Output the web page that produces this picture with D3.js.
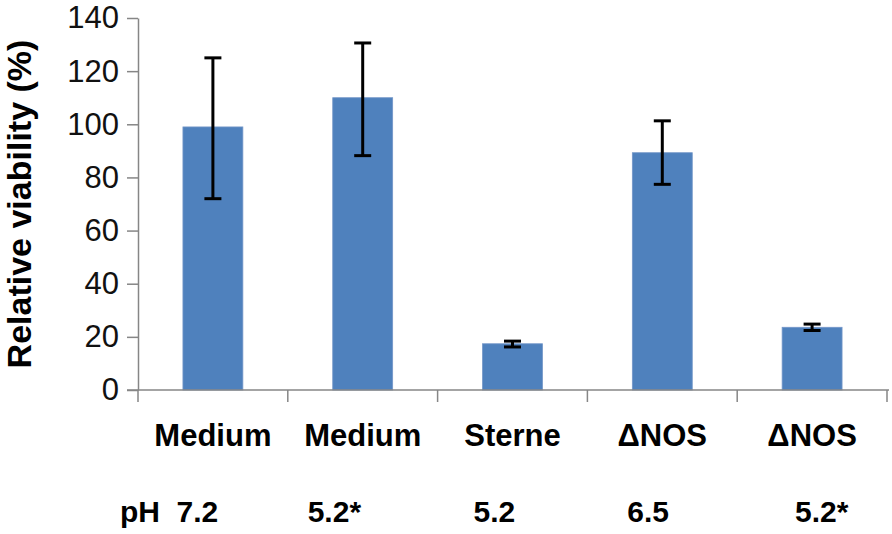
<!DOCTYPE html>
<html>
<head>
<meta charset="utf-8">
<script src="https://cdn.jsdelivr.net/npm/d3@7"></script>
<style>
  body { margin: 0; background: #fff; }
  svg { display: block; font-family: "Liberation Sans", Arial, sans-serif; }
</style>
</head>
<body>
<div id="chart"></div>
<script>
// data
const categories = ["Medium", "Medium", "Sterne", "\u0394NOS", "\u0394NOS"];
const viability = [99, 110, 17.4, 89.3, 23.6];
const errLow = [72, 88.2, 16.2, 77.4, 22.4];
const errHigh = [125, 130.6, 18.4, 101.3, 24.8];
const phLabels = ["pH  7.2", "5.2*", "5.2", "6.5", "5.2*"];
const yTicks = [0, 20, 40, 60, 80, 100, 120, 140];

// layout: where each pH label starts, relative to the category centre
const phOffsets = [-93, -55, -39, -35, -17];

const width = 892, height = 534;
const axisColor = "#868686";

const svg = d3.select("#chart")
  .append("svg")
  .attr("width", width)
  .attr("height", height);

const x = d3.scaleBand()
  .domain(d3.range(categories.length))
  .range([138, 887])
  .padding(0);

const y = d3.scaleLinear()
  .domain([0, 140])
  .range([390, 18]);

const barW = x.bandwidth() * 0.4;

// bars
svg.selectAll("rect.bar")
  .data(viability)
  .enter()
  .append("rect")
  .attr("class", "bar")
  .attr("x", (d, i) => x(i) + (x.bandwidth() - barW) / 2)
  .attr("y", d => y(d))
  .attr("width", barW)
  .attr("height", d => y(0) - y(d))
  .attr("fill", "#4f81bd")
  .attr("stroke", "#7396c8")
  .attr("stroke-width", 0.8);

// y axis
const yAxis = svg.append("g")
  .attr("transform", `translate(${x.range()[0]},0)`)
  .call(d3.axisLeft(y).tickValues(yTicks).tickSize(11).tickPadding(8).tickSizeOuter(0));
yAxis.select(".domain").attr("stroke", axisColor).attr("stroke-width", 1.5);
yAxis.selectAll(".tick line").attr("stroke", axisColor).attr("stroke-width", 1.5);
yAxis.selectAll(".tick text")
  .attr("font-size", 31)
  .attr("fill", "#111")
  .attr("font-family", "Liberation Sans, Arial, sans-serif");

// x axis line with ticks between categories
const xAxis = svg.append("g").attr("transform", `translate(0,${y(0)})`);
xAxis.append("line")
  .attr("x1", x.range()[0] - 11)
  .attr("x2", x.range()[1] + 2)
  .attr("stroke", axisColor)
  .attr("stroke-width", 1.5);
xAxis.selectAll("line.sep")
  .data(d3.range(categories.length + 1))
  .enter()
  .append("line")
  .attr("class", "sep")
  .attr("x1", i => i < categories.length ? x(i) : x.range()[1])
  .attr("x2", i => i < categories.length ? x(i) : x.range()[1])
  .attr("y1", 0)
  .attr("y2", 12)
  .attr("stroke", axisColor)
  .attr("stroke-width", 1.5);

// error bars
const capW = 17;
const err = svg.append("g").attr("stroke", "#000").attr("stroke-width", 3);
viability.forEach((v, i) => {
  const cx = x(i) + x.bandwidth() / 2;
  err.append("line")
    .attr("x1", cx).attr("x2", cx)
    .attr("y1", y(errLow[i])).attr("y2", y(errHigh[i]));
  [errLow[i], errHigh[i]].forEach(e => {
    err.append("line")
      .attr("x1", cx - capW / 2).attr("x2", cx + capW / 2)
      .attr("y1", y(e)).attr("y2", y(e));
  });
});

// category labels
svg.selectAll("text.cat")
  .data(categories)
  .enter()
  .append("text")
  .attr("class", "cat")
  .attr("x", (d, i) => x(i) + x.bandwidth() / 2)
  .attr("y", 446)
  .attr("text-anchor", "middle")
  .attr("font-size", 31)
  .attr("font-weight", "bold")
  .text(d => d);

// pH labels
svg.selectAll("text.ph")
  .data(phLabels)
  .enter()
  .append("text")
  .attr("class", "ph")
  .attr("x", (d, i) => x(i) + x.bandwidth() / 2 + phOffsets[i])
  .attr("y", 522)
  .attr("font-size", 30)
  .attr("font-weight", "bold")
  .style("white-space", "pre")
  .attr("xml:space", "preserve")
  .text(d => d);

// y axis title
svg.append("text")
  .attr("transform", "translate(31,204) rotate(-90)")
  .attr("text-anchor", "middle")
  .attr("font-size", 34)
  .attr("font-weight", "bold")
  .text("Relative viability (%)");
</script>
</body>
</html>
